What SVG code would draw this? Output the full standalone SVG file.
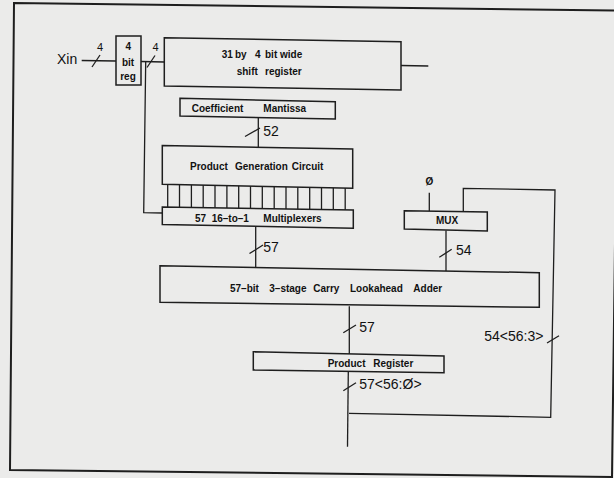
<svg xmlns="http://www.w3.org/2000/svg" width="614" height="478" viewBox="0 0 614 478">
<style>
.bg{fill:#ebebea}
.frame{fill:none;stroke:#1e1e1e;stroke-width:2}
.box{fill:#ebebea;stroke:#1e1e1e;stroke-width:1.5}
.ln{fill:none;stroke:#1e1e1e;stroke-width:1.3}
.t{font-family:"Liberation Sans",Arial,sans-serif;font-weight:bold;font-size:10px;fill:#111}
.n{font-family:"Liberation Sans",Arial,sans-serif;font-size:14px;fill:#111}
.s{font-family:"Liberation Sans",Arial,sans-serif;font-size:11px;fill:#111}
</style>
<rect class="bg" x="0" y="0" width="614" height="478"/>
<g id="frame"><polygon class="frame" points="14,3 618,10.5 612,477 10,470"/></g>
<g id="connectors">
  <g id="bars" class="ln">
    <line x1="167.7" y1="184" x2="167.7" y2="210"/>
    <line x1="179.5" y1="184" x2="179.5" y2="210"/>
    <line x1="191.4" y1="184" x2="191.4" y2="210"/>
    <line x1="203.2" y1="184" x2="203.2" y2="210"/>
    <line x1="215.0" y1="184" x2="215.0" y2="210"/>
    <line x1="226.9" y1="184" x2="226.9" y2="210"/>
    <line x1="238.7" y1="184" x2="238.7" y2="210"/>
    <line x1="250.5" y1="184" x2="250.5" y2="210"/>
    <line x1="262.3" y1="184" x2="262.3" y2="210"/>
    <line x1="274.2" y1="184" x2="274.2" y2="210"/>
    <line x1="286.0" y1="184" x2="286.0" y2="210"/>
    <line x1="297.8" y1="184" x2="297.8" y2="210"/>
    <line x1="309.7" y1="184" x2="309.7" y2="210"/>
    <line x1="321.5" y1="184" x2="321.5" y2="210"/>
    <line x1="333.3" y1="184" x2="333.3" y2="210"/>
    <line x1="345.2" y1="184" x2="345.2" y2="210"/>
  </g>
  <polyline class="ln" points="81.7,60.5 116,61"/>
  <polyline class="ln" points="141,61.5 164.3,62"/>
  <polyline class="ln" points="145.7,62 143.7,212.7 162.3,213"/>
  <polyline class="ln" points="401,65.5 428.3,66"/>
  <polyline class="ln" points="258.3,117.7 258.3,147.2"/>
  <polyline class="ln" points="255.7,226 255.7,267.5"/>
  <polyline class="ln" points="429.3,192.7 429.3,211.3"/>
  <polyline class="ln" points="463.3,211.7 463.3,188.3 555,190 550.7,417.3 349,413.3"/>
  <polyline class="ln" points="446,230.5 446,271.5"/>
  <polyline class="ln" points="349.3,306.3 349.3,354"/>
  <polyline class="ln" points="348.3,371.7 347.5,446.7"/>
  <g id="slashes" class="ln">
    <line x1="92" y1="67" x2="100" y2="55"/>
    <line x1="147" y1="67.5" x2="155" y2="55.5"/>
    <line x1="245" y1="136.5" x2="260" y2="128"/>
    <line x1="249.5" y1="253.5" x2="263" y2="245"/>
    <line x1="439.3" y1="257.3" x2="451.7" y2="249.3"/>
    <line x1="343.3" y1="332.7" x2="356" y2="325"/>
    <line x1="343.3" y1="390.7" x2="356" y2="382.7"/>
    <line x1="547" y1="343" x2="559" y2="335.7"/>
  </g>
  <g id="bus-labels">
    <text class="n" x="57" y="64">Xin</text>
    <text class="s" x="100" y="50.7" text-anchor="middle">4</text>
    <text class="s" x="155.5" y="50.7" text-anchor="middle">4</text>
    <text class="n" x="263.3" y="136">52</text>
    <text class="n" x="263.3" y="251.7">57</text>
    <text class="n" x="456" y="255">54</text>
    <text class="n" x="359.3" y="332.3">57</text>
    <text class="n" x="484.3" y="340.7">54&lt;56:3&gt;</text>
    <text class="n" x="359.3" y="389.3">57&lt;56:Ø&gt;</text>
    <text class="t" x="429.5" y="185" text-anchor="middle">Ø</text>
  </g>
</g>
<g id="reg">
  <rect class="box" x="116" y="36" width="25" height="49"/>
  <text class="t" x="128.3" y="50" text-anchor="middle">4</text>
  <text class="t" x="128" y="66" text-anchor="middle">bit</text>
  <text class="t" x="128" y="79.5" text-anchor="middle">reg</text>
</g>
<g id="shift-register">
  <polygon class="box" points="164.3,37.7 401,41.7 401,90 164.3,86"/>
  <text class="t" y="57.5"><tspan x="221.7">31</tspan><tspan x="235">by</tspan><tspan x="255">4</tspan><tspan x="265">bit</tspan><tspan x="280">wide</tspan></text>
  <text class="t" y="75"><tspan x="236.7">shift</tspan><tspan x="265">register</tspan></text>
</g>
<g id="coefficient">
  <polygon class="box" points="180,98.3 335.3,101.7 335.3,119 180,116"/>
  <text class="t" y="111.7"><tspan x="191.7">Coefficient</tspan><tspan x="263.3">Mantissa</tspan></text>
</g>
<g id="pgc">
  <polygon class="box" points="162.3,145.5 352.7,149 352.7,188.3 162.3,184.3"/>
  <text class="t" y="170"><tspan x="190">Product</tspan><tspan x="235">Generation</tspan><tspan x="291.7">Circuit</tspan></text>
</g>
<g id="multiplexers">
  <polygon class="box" points="162.3,207 353.3,210 353.3,228.3 162.3,224.5"/>
  <text class="t" y="221.7"><tspan x="195">57</tspan><tspan x="211.7">16–to–1</tspan><tspan x="263.3">Multiplexers</tspan></text>
</g>
<g id="mux">
  <polygon class="box" points="404.3,210.7 487.3,212 487.3,231 404.3,229"/>
  <text class="t" x="447" y="224.3" text-anchor="middle">MUX</text>
</g>
<g id="adder">
  <polygon class="box" points="160,265.7 539.3,272.7 539.3,307.3 160,302.3"/>
  <text class="t" y="291.7"><tspan x="230">57–bit</tspan><tspan x="269.3">3–stage</tspan><tspan x="313.3">Carry</tspan><tspan x="350">Lookahead</tspan><tspan x="413.3">Adder</tspan></text>
</g>
<g id="product-register">
  <polygon class="box" points="253.3,351.7 444,356 444,372.7 253.3,370"/>
  <text class="t" y="366.5"><tspan x="327.7">Product</tspan><tspan x="373.3">Register</tspan></text>
</g>
</svg>
